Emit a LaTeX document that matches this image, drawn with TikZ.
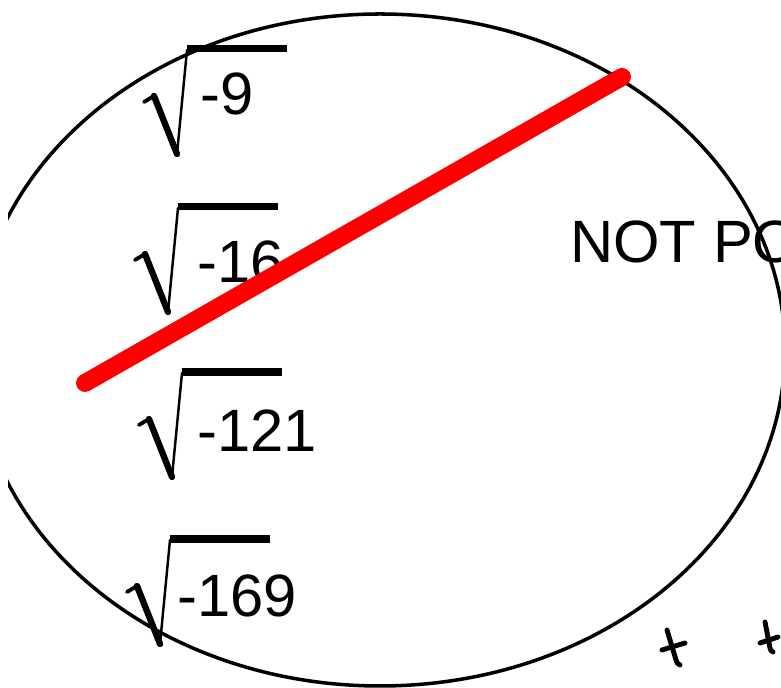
\documentclass[tikz,border=0pt]{standalone}
\usepackage{fontspec}
\setmainfont{Liberation Sans}

\tikzset{
    numtext/.style={anchor=base west, inner sep=0pt, font=\fontsize{34}{40}\selectfont},
    strike/.style={red, line width=10.2pt, line cap=round},
}

\begin{document}
\begin{tikzpicture}[x=0.02cm, y=0.02cm, line cap=round, line join=round]
    \useasboundingbox (0,0) rectangle (781,688);
    \clip (0,0) rectangle (781,688);

    % Set (ellipse, cut off on both sides)
    \begin{scope}
        \clip (8,0) rectangle (781,688);
        \draw[line width=2pt] (380,338) ellipse [x radius=405, y radius=336];
    \end{scope}

    % Square roots of negative numbers
    \foreach \tx/\ty/\nx/\ny/\num/\name in {187/638/200/573/-9/rnine,
                                            178/480/197/405/-16/rsixteen,
                                            182/315/197/236/-121/ronetwoone,
                                            170/148/177/71/-169/ronesixnine}{
        \draw[line width=2.2pt] (\tx-43,\ty-52) -- (\tx-33,\ty-46);
        \draw[line width=3.6pt] (\tx-33,\ty-46) -- (\tx-10,\ty-104);
        \draw[line width=1.4pt] (\tx-10,\ty-104) -- (\tx,\ty);
        \draw[line width=4pt, line cap=butt] (\tx,\ty+1) -- (\tx+100,\ty+1);
        \node[numtext] (\name) at (\nx,\ny) {\num};
    }

    % Label on the right
    \node[numtext] (notpossible) at (570,425) {NOT POSSIBLE};

    % Small marks at the bottom
    \draw[line width=2.8pt] (667,58) -- (676,28) to[bend right=30] (680,23);
    \draw[line width=2.8pt] (662,38) -- (685,45);
    \draw[line width=2.8pt] (765,66) -- (770,40) to[bend right=30] (773,36);
    \draw[line width=2.8pt] (760,45) -- (778,51);

    % Red line through the set
    \draw[strike] (85,305) -- (622,611);
\end{tikzpicture}
\end{document}
